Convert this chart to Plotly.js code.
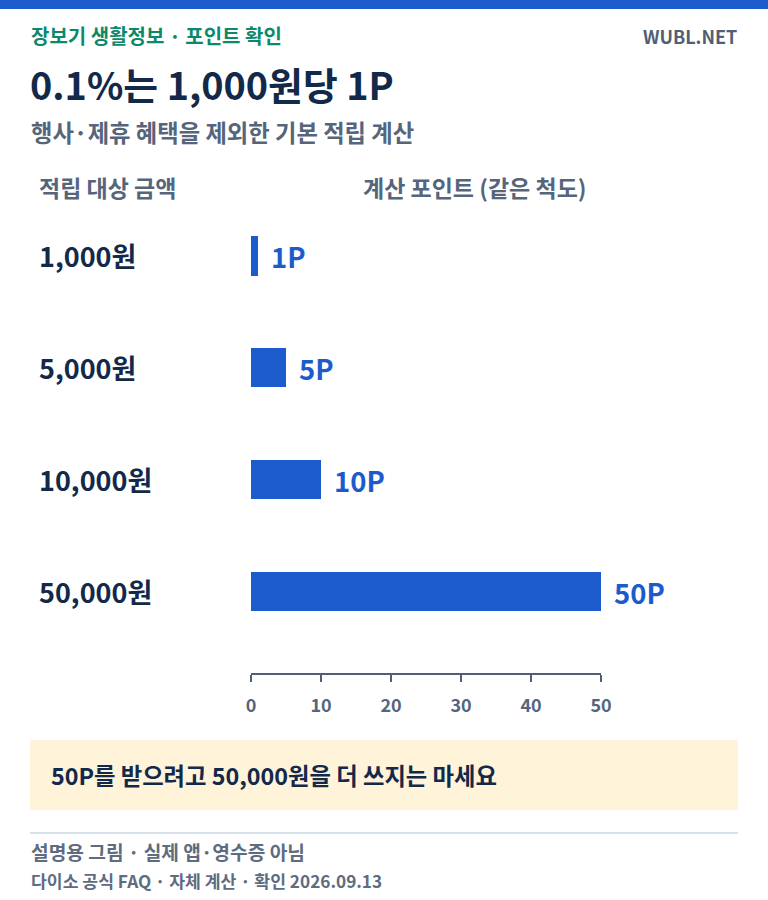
<!DOCTYPE html>
<html>
<head>
<meta charset="utf-8">
<script src="https://cdn.plot.ly/plotly-3.0.1.min.js"></script>
<style>
  html, body { margin: 0; padding: 0; background: #ffffff; }
  #chart { width: 768px; height: 900px; }
</style>
</head>
<body>
<div id="chart"></div>
<script>
// data
const amounts = ['1,000원', '5,000원', '10,000원', '50,000원']
const points = [1, 5, 10, 50]
const pointLabels = points.map(p => p + 'P')
const tickValues = [0, 10, 20, 30, 40, 50]

const FONT = '"Noto Sans CJK KR", "Noto Sans", sans-serif'
const NAVY = '#12294a'
const BLUE = '#1b5bcb'
const GRAY = '#55657b'

// plot box in pixels
const W = 768, H = 900
const L = 251, R = 167, T = 200, B = 227
const PW = W - L - R, PH = H - T - B
const px = x => (x - L) / PW
const py = y => (H - B - y) / PH

const trace = {
  type: 'bar',
  orientation: 'h',
  x: points,
  y: amounts,
  width: 0.35,
  marker: { color: BLUE, line: { width: 0 } },
  hoverinfo: 'skip',
  cliponaxis: false,
}

const annotations = []
amounts.forEach((a, i) => {
  annotations.push({
    xref: 'paper', yref: 'y', x: px(37), y: a,
    xanchor: 'left', yanchor: 'middle', showarrow: false,
    text: a, font: { family: FONT, size: 27, color: NAVY, weight: 700 },
  })
  annotations.push({
    xref: 'x', yref: 'y', x: points[i], y: a,
    xanchor: 'left', yanchor: 'middle', showarrow: false, xshift: 11,
    text: pointLabels[i], font: { family: FONT, size: 27.5, color: BLUE, weight: 700 },
  })
})

const txt = (x, y, text, size, color, anchor) => ({
  xref: 'paper', yref: 'paper', x: px(x), y: py(y),
  xanchor: anchor || 'left', yanchor: 'middle', showarrow: false,
  text: text, font: { family: FONT, size: size, color: color, weight: 700 },
})

annotations.push(
  txt(29, 35, '장보기 생활정보 · 포인트 확인', 20, '#0c896a'),
  txt(739, 36, 'WUBL.NET', 18, '#4f5f75', 'right'),
  txt(28, 83, '0.1%는 1,000원당 1P', 37.8, NAVY),
  txt(29, 132, '행사·제휴 혜택을 제외한 기본 적립 계산', 23.3, GRAY),
  txt(37, 187, '적립 대상 금액', 23, GRAY),
  txt(361, 187, '계산 포인트 (같은 척도)', 23, GRAY),
  txt(49, 775, '50P를 받으려고 50,000원을 더 쓰지는 마세요', 23.3, NAVY),
  txt(29, 852, '설명용 그림 · 실제 앱·영수증 아님', 19.2, '#5d6c81'),
  txt(29, 880, '다이소 공식 FAQ · 자체 계산 · 확인 2026.09.13', 17.2, '#5d6c81'),
)

const shapes = [
  { type: 'rect', xref: 'paper', yref: 'paper', x0: px(0), x1: px(W), y0: py(0), y1: py(9),
    fillcolor: BLUE, line: { width: 0 }, layer: 'below' },
  { type: 'rect', xref: 'paper', yref: 'paper', x0: px(30), x1: px(738), y0: py(740), y1: py(810),
    fillcolor: '#fff3da', line: { width: 0 }, layer: 'below' },
  { type: 'line', xref: 'paper', yref: 'paper', x0: px(30), x1: px(738), y0: py(833), y1: py(833),
    line: { color: '#d6e1ec', width: 2 } },
]

const layout = {
  width: W,
  height: H,
  margin: { l: L, r: R, t: T, b: B, pad: 0 },
  paper_bgcolor: '#ffffff',
  plot_bgcolor: '#ffffff',
  showlegend: false,
  bargap: 0,
  font: { family: FONT, color: GRAY },
  xaxis: {
    range: [0, 50],
    tickvals: tickValues,
    ticktext: tickValues.map(String),
    showgrid: false,
    zeroline: false,
    showline: true,
    linecolor: '#4f5f75',
    linewidth: 2,
    ticks: 'outside',
    ticklen: 7,
    tickwidth: 2,
    tickcolor: '#4f5f75',
    ticklabelstandoff: 8,
    tickfont: { family: FONT, size: 18, color: GRAY, weight: 700 },
    fixedrange: true,
  },
  yaxis: {
    type: 'category',
    range: [3.728, -0.5],
    showticklabels: false,
    showgrid: false,
    zeroline: false,
    showline: false,
    fixedrange: true,
  },
  annotations: annotations,
  shapes: shapes,
}

Plotly.newPlot('chart', [trace], layout, { staticPlot: true, displayModeBar: false })
</script>
</body>
</html>
